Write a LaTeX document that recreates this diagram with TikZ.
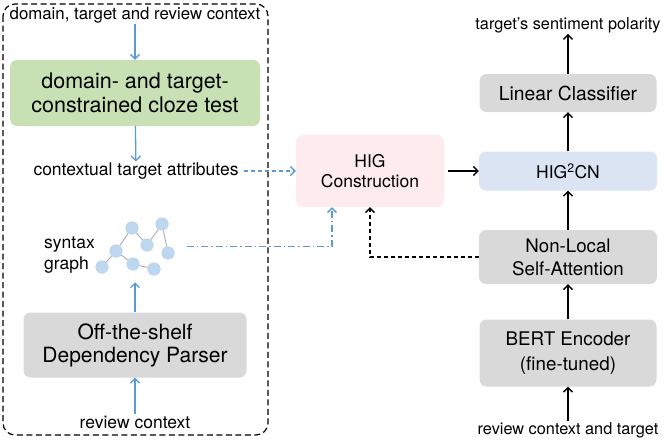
\documentclass[tikz,border=0pt]{standalone}
\usepackage{fontspec}
\setmainfont{TeX Gyre Heros}
\usetikzlibrary{positioning,fit,calc,arrows.meta}
\definecolor{clozegreen}{RGB}{199,225,180}
\definecolor{boxgray}{RGB}{217,217,217}
\definecolor{higpink}{RGB}{253,235,237}
\definecolor{hcnblue}{RGB}{218,228,243}
\definecolor{arrblue}{RGB}{91,155,213}
\definecolor{nodeblue}{RGB}{189,215,238}

\newcommand{\fs}[2]{\fontsize{#1}{#2}\selectfont}

\begin{document}
\begin{tikzpicture}[
    x=1pt, y=-1pt,
    box/.style={rounded corners=7pt, align=center, inner sep=0pt},
    lbl/.style={align=left, font=\fs{17.5}{21}, inner sep=1pt},
    rlbl/.style={lbl, font=\fs{16.3}{20}},
    arrow/.style={->, line width=1.3pt, >={Straight Barb[length=4.5pt,width=9pt]}},
    barrow/.style={arrow, arrblue},
    gnode/.style={circle, fill=nodeblue, minimum size=13pt, inner sep=0pt},
    gedge/.style={draw=gray!65, line width=0.9pt}
]
\useasboundingbox (0,0) rectangle (665,442);

% ========== LEFT: Target attribute extraction ==========
\draw[line width=1.2pt, dash pattern=on 6pt off 3.5pt, rounded corners=12pt] (3,4) rectangle (268,435);

\node[lbl, font=\fs{16.8}{20}] (ctx) at (135,15) {domain, target and review context};
\node[box, fill=clozegreen, minimum width=250pt, minimum height=66pt, font=\fs{21.5}{24}] (cloze) at (135,93) {domain- and target-\\constrained cloze test};
\node[lbl] (attr) at (136,171) {contextual target attributes};

\draw[barrow] (ctx) -- (cloze);
\draw[barrow] (cloze) -- (attr);

% syntax graph
\node[gnode] (g1) at (102,267) {};
\node[gnode] (g2) at (116,251) {};
\node[gnode] (g3) at (132,228) {};
\node[gnode] (g4) at (147,245) {};
\node[gnode] (g5) at (162,224) {};
\node[gnode] (g6) at (168,253) {};
\node[gnode] (g7) at (133,264) {};
\node[gnode] (g8) at (154,269) {};
\foreach \a/\b in {g1/g2, g2/g3, g3/g4, g4/g5, g5/g6, g2/g7, g7/g8}
    \draw[gedge] (\a) -- (\b);
\foreach \n in {1,...,8}
    \node[gnode] at (g\n) {};
\node[fit=(g1)(g3)(g5)(g6)(g8), inner sep=0pt] (graph) {};
\node[lbl, anchor=west] (synlbl) at (43,255) {syntax\\graph};

\node[box, fill=boxgray, minimum width=223pt, minimum height=65pt, font=\fs{21}{23}] (parser) at (135,345) {Off-the-shelf\\Dependency Parser};
\node[lbl] (rev) at (135,422) {review context};

\draw[barrow] (rev) -- (parser);
\draw[barrow] (parser.north) -- ++(0,-30);

% ========== RIGHT: Classification pipeline ==========
\node[box, fill=higpink, minimum width=148pt, minimum height=72pt, font=\fs{17.5}{20}] (hig) at (370,171) {HIG\\Construction};
\node[box, fill=hcnblue, minimum width=178pt, minimum height=39pt, font=\fs{17.5}{20}] (hcn) at (568,171) {HIG\textsuperscript{2}CN};
\node[box, fill=boxgray, minimum width=177pt, minimum height=38pt, font=\fs{19.3}{22}] (lin) at (568,93) {Linear Classifier};
\node[rlbl] (pol) at (568,25) {target's sentiment polarity};
\node[box, fill=boxgray, minimum width=178pt, minimum height=54pt, font=\fs{18.7}{23}] (nlsa) at (568,257) {Non-Local\\Self-Attention};
\node[box, fill=boxgray, minimum width=177pt, minimum height=67pt, font=\fs{18.8}{25}] (bert) at (568,353) {BERT Encoder\\(fine-tuned)};
\node[rlbl] (revt) at (568,430) {review context and target};

\draw[arrow] (revt) -- (bert);
\draw[arrow] (bert) -- (nlsa);
\draw[arrow] (nlsa) -- (hcn);
\draw[arrow] (hcn) -- (lin);
\draw[arrow] (lin) -- (pol);
\draw[arrow] ([xshift=4pt]hig.east) -- (hcn.west);

% connections into HIG construction
\draw[barrow, dash pattern=on 4pt off 3pt] ([xshift=4pt]attr.east) -- (hig.west);
\draw[barrow, dash pattern=on 7pt off 3pt on 1.5pt off 3pt] ([xshift=12pt]graph.east) -| ([xshift=-38pt]hig.south);
\draw[arrow, dash pattern=on 4pt off 3pt] (nlsa.west) -| (hig.south);

\end{tikzpicture}
\end{document}
